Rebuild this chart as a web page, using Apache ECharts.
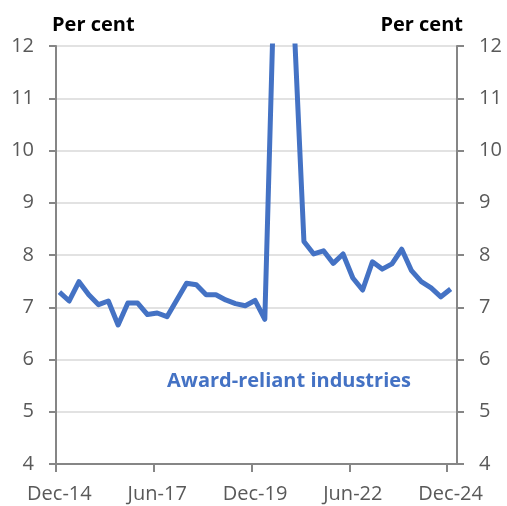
<!DOCTYPE html>
<html>
<head>
<meta charset="utf-8">
<script src="https://cdn.jsdelivr.net/npm/echarts@6/dist/echarts.min.js"></script>
<style>
html,body{margin:0;padding:0;background:#fff;}
#chart{width:507px;height:506px;}
</style>
</head>
<body>
<div id="chart"></div>
<script>
// Quarterly categories Dec-14 .. Dec-24
const quarters = [
 'Dec-14','Mar-15','Jun-15','Sep-15','Dec-15','Mar-16','Jun-16','Sep-16','Dec-16','Mar-17',
 'Jun-17','Sep-17','Dec-17','Mar-18','Jun-18','Sep-18','Dec-18','Mar-19','Jun-19','Sep-19',
 'Dec-19','Mar-20','Jun-20','Sep-20','Dec-20','Mar-21','Jun-21','Sep-21','Dec-21','Mar-22',
 'Jun-22','Sep-22','Dec-22','Mar-23','Jun-23','Sep-23','Dec-23','Mar-24','Jun-24','Sep-24',
 'Dec-24'
];
const awardReliant = [
 7.29, 7.12, 7.49, 7.24, 7.05, 7.12, 6.66, 7.08, 7.08, 6.86,
 6.89, 6.82, 7.14, 7.46, 7.43, 7.24, 7.24, 7.14, 7.07, 7.03,
 7.13, 6.77, 13.5, 14.5, 12.4, 8.26, 8.02, 8.08, 7.84, 8.02,
 7.56, 7.33, 7.87, 7.73, 7.83, 8.11, 7.70, 7.49, 7.37, 7.20,
 7.35
];
const xTickLabels = ['Dec-14','Jun-17','Dec-19','Jun-22','Dec-24'];
const yTicks = [4,5,6,7,8,9,10,11,12];

const tickIdx = xTickLabels.map(l => quarters.indexOf(l));
const pointOffset = 0.35; // data points sit at end of month, ticks at start
const FONT = 'Open Sans';

const chart = echarts.init(document.getElementById('chart'));
const yAxisBase = {
  type: 'value', min: yTicks[0], max: yTicks[yTicks.length-1], interval: 1,
  axisLine: {show: true, lineStyle: {color: '#868686', width: 2}},
  axisTick: {show: true, length: 7, lineStyle: {color: '#868686', width: 2}},
  axisLabel: {color: '#595959', fontSize: 20, fontFamily: FONT, margin: 22}
};
chart.setOption({
  animation: false,
  grid: {left: 56, right: 50, top: 46, bottom: 42, containLabel: false},
  xAxis: {
    type: 'value', min: 0, max: quarters.length,
    axisLine: {show: true, onZero: false, lineStyle: {color: '#868686', width: 2}},
    axisTick: {show: true, length: 8, customValues: tickIdx, lineStyle: {color: '#868686', width: 2}},
    axisLabel: {
      customValues: tickIdx.map(i => i + pointOffset),
      formatter: v => quarters[Math.round(v - pointOffset)] || '',
      color: '#595959', fontSize: 20, fontFamily: FONT, margin: 20
    },
    splitLine: {show: false}
  },
  yAxis: [
    Object.assign({}, yAxisBase, {position: 'left',
      splitLine: {show: true, lineStyle: {color: '#d9d9d9', width: 1.5}}}),
    Object.assign({}, yAxisBase, {position: 'right', splitLine: {show: false}})
  ],
  series: [{
    type: 'line', yAxisIndex: 0, clip: true,
    data: awardReliant.map((v, i) => [i + pointOffset, v]),
    showSymbol: false, symbol: 'none',
    lineStyle: {color: '#4472C4', width: 5, join: 'round'}
  }],
  graphic: [
    {type: 'text', left: 52, top: 15, style: {text: 'Per cent', fontSize: 20, fontWeight: 'bold', fontFamily: FONT, fill: '#000'}},
    {type: 'text', right: 44, top: 15, style: {text: 'Per cent', fontSize: 20, fontWeight: 'bold', fontFamily: FONT, fill: '#000'}},
    {type: 'text', left: 167, top: 371, style: {text: 'Award-reliant industries', fontSize: 20, fontWeight: 'bold', fontFamily: FONT, fill: '#4472C4'}}
  ]
});
</script>
</body>
</html>
